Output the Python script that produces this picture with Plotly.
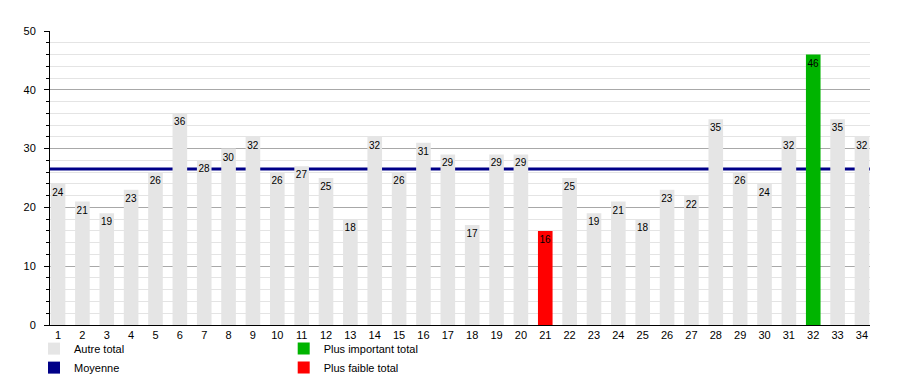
import plotly.graph_objects as go

categories = list(range(1, 35))
totals = [24, 21, 19, 23, 26, 36, 28, 30, 32, 26, 27, 25, 18, 32, 26, 31, 29, 17,
          29, 29, 16, 25, 19, 21, 18, 23, 22, 35, 26, 24, 32, 46, 35, 32]
y_ticks = [0, 10, 20, 30, 40, 50]

GRAY = "#e5e5e5"
GREEN = "#00b400"
RED = "#ff0000"
NAVY = "#000088"
FONT = "Liberation Sans, Arial, sans-serif"

mx = max(totals)
mn = min(totals)
mean = sum(totals) / len(totals)

other = [v if (v != mx and v != mn) else None for v in totals]
high = [v if v == mx else None for v in totals]
low = [v if v == mn else None for v in totals]

def bar(vals, color, name, legend):
    return go.Bar(
        x=categories, y=vals, name=name, legend=legend,
        marker=dict(color=color, line=dict(width=0)),
        width=0.6,
        text=[str(v) if v is not None else "" for v in vals],
        textposition="inside", insidetextanchor="end",
        insidetextfont=dict(color="#000000", size=10, family=FONT),
        textangle=0, constraintext="none",
        hoverinfo="x+y",
    )

fig = go.Figure()
fig.add_trace(bar(other, GRAY, "Autre total", "legend"))
fig.add_trace(go.Bar(x=[None], y=[None], name="Moyenne", legend="legend",
                     marker=dict(color=NAVY, line=dict(width=0))))
fig.add_trace(bar(high, GREEN, "Plus important total", "legend2"))
fig.add_trace(bar(low, RED, "Plus faible total", "legend2"))

fig.add_shape(type="line", xref="paper", x0=0, x1=1, yref="y", y0=mean, y1=mean,
              line=dict(color=NAVY, width=3), layer="between")

fig.update_layout(
    width=892, height=367,
    margin=dict(l=42, r=30, t=23, b=50, autoexpand=False),
    paper_bgcolor="white", plot_bgcolor="white",
    barmode="overlay",
    font=dict(family=FONT, size=11, color="#000000"),
    xaxis=dict(
        range=[0.67, 34.33], tickmode="array", tickvals=categories,
        ticktext=[str(c) for c in categories],
        showgrid=False, showline=True, linecolor="#000000", linewidth=1,
        ticks="", tickfont=dict(size=11, color="#000000"), zeroline=False, fixedrange=True,
    ),
    yaxis=dict(
        range=[0, 50], tickmode="array", tickvals=y_ticks,
        showgrid=True, gridcolor="#a8a8a8", gridwidth=1,
        showline=True, linecolor="#000000", linewidth=1,
        ticks="outside", ticklen=5, tickcolor="#000000",
        ticklabelstandoff=6,
        minor=dict(dtick=2, showgrid=True, gridcolor="#e4e4e4", gridwidth=1,
                   ticks="outside", ticklen=3, tickcolor="#000000"),
        zeroline=False, tickfont=dict(size=11, color="#000000"), fixedrange=True,
    ),
    legend=dict(x=-0.0195, y=-0.031, xanchor="left", yanchor="top",
                orientation="v", font=dict(size=11), tracegroupgap=0,
                bgcolor="rgba(0,0,0,0)", itemclick=False),
    legend2=dict(x=0.285, y=-0.031, xanchor="left", yanchor="top",
                 orientation="v", font=dict(size=11), tracegroupgap=0,
                 bgcolor="rgba(0,0,0,0)", itemclick=False),
    showlegend=True,
)

fig.write_html("out.html")
